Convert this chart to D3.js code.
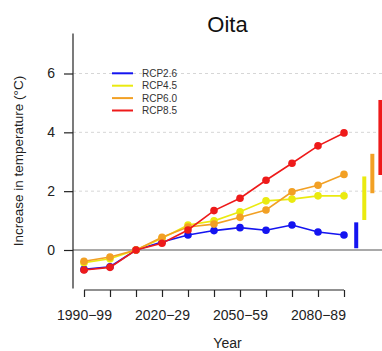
<!DOCTYPE html>
<html>
<head>
<meta charset="utf-8">
<script src="https://cdn.jsdelivr.net/npm/d3@7"></script>
<style>
  html, body { margin: 0; padding: 0; background: #fff; }
  svg { display: block; font-family: "Liberation Sans", Arial, Helvetica, sans-serif; }
</style>
</head>
<body>
<svg id="chart" width="382" height="351"></svg>
<script>
// Decadal periods on the x axis
const periods = ["1990−99", "2000−09", "2010−19", "2020−29", "2030−39", "2040−49",
                 "2050−59", "2060−69", "2070−79", "2080−89", "2090−99"];
const labelledPeriods = ["1990−99", "2020−29", "2050−59", "2080−89"];
const yTicks = [0, 2, 4, 6];

// Scenario names and colours
const scenarios = ["RCP2.6", "RCP4.5", "RCP6.0", "RCP8.5"];
const colors = ["#1414f0", "#eaea10", "#f2a024", "#ee1a1a"];

// Temperature increase (°C) per period, relative to 2010−19
const rcp26 = [-0.66, -0.57, 0, 0.27, 0.51, 0.66, 0.76, 0.67, 0.85, 0.61, 0.51];
const rcp45 = [-0.43, -0.30, 0, 0.40, 0.85, 0.99, 1.30, 1.67, 1.73, 1.84, 1.84];
const rcp60 = [-0.38, -0.24, 0, 0.43, 0.78, 0.88, 1.11, 1.36, 1.98, 2.20, 2.57];
const rcp85 = [-0.68, -0.59, 0, 0.23, 0.68, 1.34, 1.76, 2.37, 2.95, 3.54, 3.98];

// End-of-century ranges (low, high) per scenario
const rangeLow  = [0.06, 1.02, 1.93, 2.55];
const rangeHigh = [0.94, 2.50, 3.27, 5.10];

const series = [rcp26, rcp45, rcp60, rcp85];

const svg = d3.select("#chart");

const x = d3.scaleLinear().domain([0, periods.length - 1]).range([84, 344]);
const y = d3.scaleLinear().domain([0, 6]).range([250, 73.5]);
const plotLeft = 73, plotRight = 382;

// Dashed grid lines
svg.append("g")
  .selectAll("line")
  .data(yTicks.filter(d => d !== 0))
  .join("line")
  .attr("x1", plotLeft).attr("x2", plotRight)
  .attr("y1", d => y(d)).attr("y2", d => y(d))
  .attr("stroke", "#d6d6d6")
  .attr("stroke-width", 1)
  .attr("stroke-dasharray", "3,3");

// Zero reference line
svg.append("line")
  .attr("x1", plotLeft).attr("x2", plotRight)
  .attr("y1", y(0)).attr("y2", y(0))
  .attr("stroke", "#555")
  .attr("stroke-width", 1.2);

// Y axis
const yAxis = svg.append("g")
  .attr("transform", `translate(${plotLeft},0)`)
  .call(d3.axisLeft(y).tickValues(yTicks).tickSize(9).tickPadding(9).tickFormat(d3.format("d")));
yAxis.select(".domain").remove();
yAxis.append("line")
  .attr("x1", 0).attr("x2", 0)
  .attr("y1", y(7.36)).attr("y2", y(-1.31))
  .attr("stroke", "#222").attr("stroke-width", 1.2);
yAxis.selectAll(".tick line").attr("stroke", "#222").attr("stroke-width", 1.2);
yAxis.selectAll(".tick text").attr("font-size", 14).attr("fill", "#222")
  .attr("font-family", "Liberation Sans, Arial, sans-serif");

// X axis
const xAxis = svg.append("g")
  .attr("transform", "translate(0,290)")
  .call(d3.axisBottom(x)
    .tickValues(d3.range(periods.length))
    .tickSize(7).tickSizeOuter(0).tickPadding(13)
    .tickFormat(i => labelledPeriods.includes(periods[i]) ? periods[i] : ""));
xAxis.select(".domain").attr("stroke", "#222").attr("stroke-width", 1.2)
  .attr("d", `M${x(0)},0H${x(periods.length - 1)}`);
xAxis.selectAll(".tick line").attr("stroke", "#222").attr("stroke-width", 1.2);
xAxis.selectAll(".tick text").attr("font-size", 14).attr("fill", "#222")
  .attr("font-family", "Liberation Sans, Arial, sans-serif");

// Scenario lines and points
const line = d3.line().x((d, i) => x(i)).y(d => y(d));
series.forEach((vals, k) => {
  const g = svg.append("g");
  g.append("path")
    .attr("d", line(vals))
    .attr("fill", "none")
    .attr("stroke", colors[k])
    .attr("stroke-width", 1.6);
  g.selectAll("circle")
    .data(vals)
    .join("circle")
    .attr("cx", (d, i) => x(i))
    .attr("cy", d => y(d))
    .attr("r", 3.8)
    .attr("fill", colors[k]);
});

// Range bars beyond the last period
svg.append("g")
  .selectAll("rect")
  .data(scenarios)
  .join("rect")
  .attr("x", (d, k) => x(periods.length - 1 + 0.47 + 0.31 * k) - 2)
  .attr("width", 4)
  .attr("y", (d, k) => y(rangeHigh[k]))
  .attr("height", (d, k) => y(rangeLow[k]) - y(rangeHigh[k]))
  .attr("fill", (d, k) => colors[k]);

// Legend
const legend = svg.append("g").attr("transform", "translate(112,73.3)");
scenarios.forEach((name, k) => {
  const row = legend.append("g").attr("transform", `translate(0,${k * 12.4})`);
  row.append("line")
    .attr("x1", 0).attr("x2", 21)
    .attr("stroke", colors[k]).attr("stroke-width", 2);
  row.append("text")
    .attr("x", 30).attr("y", 0).attr("dy", "0.35em")
    .attr("font-size", 10).attr("fill", "#333")
    .text(name);
});

// Title and axis titles
svg.append("text")
  .attr("x", (plotLeft + plotRight) / 2).attr("y", 31.5)
  .attr("text-anchor", "middle")
  .attr("font-size", 22).attr("fill", "#111")
  .text("Oita");

svg.append("text")
  .attr("x", (plotLeft + plotRight) / 2).attr("y", 348)
  .attr("text-anchor", "middle")
  .attr("font-size", 14).attr("fill", "#222")
  .text("Year");

svg.append("text")
  .attr("transform", `translate(23,${(y(7.36) + y(-1.31)) / 2}) rotate(-90)`)
  .attr("text-anchor", "middle")
  .attr("font-size", 13.5).attr("fill", "#222")
  .text("Increase in temperature (°C)");
</script>
</body>
</html>
